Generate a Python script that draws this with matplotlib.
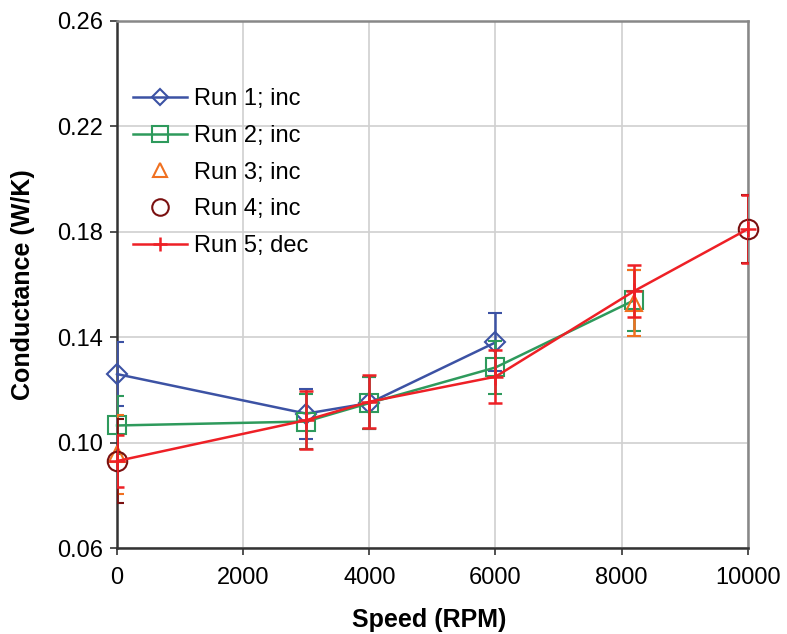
import matplotlib
matplotlib.use("Agg")
import matplotlib.pyplot as plt
from matplotlib.lines import Line2D
import numpy as np

plt.rcParams['font.family'] = ['Liberation Sans', 'DejaVu Sans']

# Data
run1_x = [0, 3000, 4000, 6000]
run1_y = [0.126, 0.111, 0.115, 0.138]
run1_e = [0.012, 0.0095, 0.010, 0.011]

run2_x = [0, 3000, 4000, 6000, 8200]
run2_y = [0.1065, 0.108, 0.115, 0.1285, 0.154]
run2_e = [0.011, 0.0105, 0.010, 0.010, 0.0115]

run3_x = [0, 8200]
run3_y = [0.0955, 0.153]
run3_e = [0.015, 0.0125]

run4_x = [0, 10000]
run4_y = [0.093, 0.181]
run4_e = [0.016, 0.013]

run5_x = [0, 3000, 4000, 6000, 8200, 10000]
run5_y = [0.093, 0.1085, 0.1155, 0.125, 0.1575, 0.181]
run5_e = [0.010, 0.011, 0.010, 0.010, 0.010, 0.013]

labels = ['Run 1; inc', 'Run 2; inc', 'Run 3; inc', 'Run 4; inc', 'Run 5; dec']
xticks = [0, 2000, 4000, 6000, 8000, 10000]
yticks = [0.06, 0.10, 0.14, 0.18, 0.22, 0.26]

fig = plt.figure(figsize=(7.87, 6.34), dpi=100)
ax = fig.add_axes([0.1487, 0.1356, 0.8013, 0.8314])

c1 = '#3c52a4'
c2 = '#2e9a5c'
c3 = '#f07020'
c4 = '#7a1010'
c5 = '#ee2026'

handles = []
def eb(x, y, e, color, ls, marker, ms, label, z, mew=1.5):
    cont = ax.errorbar(x, y, yerr=e, color=color, ecolor=color, linestyle=ls, linewidth=1.8,
                       marker=marker, markersize=ms, markerfacecolor='none',
                       markeredgecolor=color, markeredgewidth=mew,
                       elinewidth=1.8, capsize=5, capthick=1.8, zorder=z)
    cont.lines[0].set_clip_on(False)
    handles.append(Line2D([], [], color=color, linestyle=ls, linewidth=1.8, marker=marker,
                          markersize=ms * 0.85, markerfacecolor='none', markeredgecolor=color,
                          markeredgewidth=mew, label=label))

eb(run1_x, run1_y, run1_e, c1, '-', 'D', 10, labels[0], 3)
eb(run2_x, run2_y, run2_e, c2, '-', 's', 13, labels[1], 4)
eb(run3_x, run3_y, run3_e, c3, 'none', '^', 12, labels[2], 5)
eb(run4_x, run4_y, run4_e, c4, 'none', 'o', 14, labels[3], 6)
eb(run5_x, run5_y, run5_e, c5, '-', '+', 12, labels[4], 7, mew=1.8)

ax.set_xlim(0, 10000)
ax.set_ylim(0.06, 0.26)
ax.set_xticks(xticks)
ax.set_yticks(yticks)
ax.set_yticklabels([f'{v:.2f}' for v in yticks])
ax.tick_params(labelsize=17, direction='out', length=5, width=1.2, colors='#333333', labelcolor='black')
ax.tick_params(axis='x', pad=9)
ax.tick_params(axis='y', pad=5)
ax.grid(True, color='#d0d0d0', linewidth=1.2)
ax.set_axisbelow(True)

for s in ['left', 'bottom']:
    ax.spines[s].set_color('#333333')
    ax.spines[s].set_linewidth(1.8)
for s in ['top', 'right']:
    ax.spines[s].set_color('#888888')
    ax.spines[s].set_linewidth(1.8)

ax.set_xlabel('Speed (RPM)', fontsize=18, fontweight='bold')
ax.set_ylabel('Conductance (W/K)', fontsize=18, fontweight='bold')
ax.xaxis.set_label_coords(0.4945, -0.114)
ax.yaxis.set_label_coords(-0.130, 0.5)

leg = ax.legend(handles=handles, loc='upper left', bbox_to_anchor=(0.01, 0.89), frameon=False,
                fontsize=17, handlelength=2.3, labelspacing=0.62, handletextpad=0.3,
                borderaxespad=0.0)

fig.savefig('out.png', dpi=100)
